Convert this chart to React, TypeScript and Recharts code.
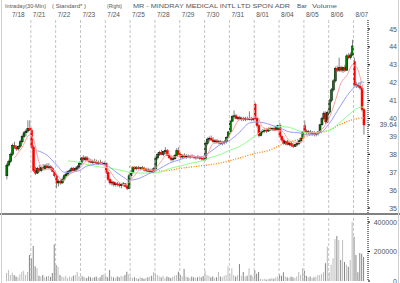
import React from 'react';
import { ComposedChart, Bar, Line, XAxis, YAxis, ReferenceLine, Cell } from 'recharts';

const dayLabels = ['7/18', '7/21', '7/22', '7/23', '7/24', '7/25', '7/28', '7/29', '7/30', '7/31', '8/01', '8/04', '8/05', '8/06', '8/07'];
const barsPerDay = 13;
const priceTicks = [35, 36, 37, 38, 39, 40, 41, 42, 43, 44, 45];
const lastPrice = 39.64;
const volumeTicks = [0, 200000, 400000];

// [open, high, low, close] per 30-minute bar
const candles: number[][] = [
  // 7/18
  [36.8, 37.5, 36.6, 37.4], [37.4, 37.7, 37.3, 37.6], [37.6, 38.1, 37.5, 38.0], [38.0, 38.6, 37.9, 38.5], [38.5, 38.7, 38.3, 38.4],
  [38.4, 38.5, 38.2, 38.3], [38.3, 38.5, 38.2, 38.45], [38.45, 38.8, 38.35, 38.7], [38.7, 39.1, 38.6, 39.0], [39.0, 39.3, 38.9, 39.2],
  [39.2, 39.4, 39.0, 39.3], [39.3, 39.9, 39.2, 39.45], [39.45, 39.9, 39.3, 39.35],
  // 7/21
  [39.35, 39.5, 38.3, 38.4], [38.4, 38.5, 37.0, 37.1], [37.1, 37.3, 36.85, 36.95], [36.95, 37.3, 36.9, 37.2], [37.2, 37.4, 37.0, 37.1],
  [37.1, 37.35, 37.0, 37.25], [37.25, 37.45, 37.1, 37.2], [37.2, 37.45, 37.1, 37.35], [37.35, 37.5, 37.2, 37.25], [37.25, 37.5, 37.15, 37.3],
  [37.3, 37.4, 37.1, 37.2], [37.2, 37.3, 37.0, 37.05], [37.05, 37.1, 36.7, 36.8],
  // 7/22
  [36.8, 36.9, 36.1, 36.4], [36.4, 36.6, 36.2, 36.5], [36.5, 36.6, 36.3, 36.4], [36.4, 36.7, 36.35, 36.6], [36.6, 36.9, 36.5, 36.8],
  [36.8, 37.0, 36.7, 36.9], [36.9, 37.1, 36.8, 37.05], [37.05, 37.2, 36.95, 37.1], [37.1, 37.3, 37.0, 37.2], [37.2, 37.3, 37.05, 37.1],
  [37.1, 37.3, 37.05, 37.2], [37.2, 37.4, 37.1, 37.3], [37.3, 37.6, 37.2, 37.5],
  // 7/23
  [37.5, 37.85, 37.4, 37.8], [37.8, 37.95, 37.6, 37.7], [37.7, 37.9, 37.6, 37.8], [37.8, 37.9, 37.6, 37.65], [37.65, 37.8, 37.5, 37.6],
  [37.6, 37.75, 37.5, 37.55], [37.55, 37.7, 37.45, 37.6], [37.6, 37.75, 37.5, 37.55], [37.55, 37.7, 37.45, 37.5], [37.5, 37.65, 37.4, 37.55],
  [37.55, 37.7, 37.45, 37.5], [37.5, 37.6, 37.4, 37.45], [37.45, 37.6, 37.35, 37.5],
  // 7/24
  [37.5, 37.55, 36.9, 37.0], [37.0, 37.1, 36.5, 36.6], [36.6, 36.7, 36.3, 36.4], [36.4, 36.55, 36.25, 36.45], [36.45, 36.5, 36.2, 36.3],
  [36.3, 36.45, 36.2, 36.35], [36.35, 36.45, 36.2, 36.3], [36.3, 36.4, 36.15, 36.25], [36.25, 36.4, 36.1, 36.3], [36.3, 36.45, 36.2, 36.35],
  [36.35, 36.4, 36.15, 36.2], [36.2, 36.3, 36.0, 36.1], [36.1, 36.9, 36.05, 36.8],
  // 7/25
  [36.8, 37.1, 36.6, 37.0], [37.0, 37.35, 36.9, 37.25], [37.25, 37.35, 37.1, 37.2], [37.2, 37.35, 37.1, 37.25], [37.25, 37.35, 37.15, 37.2],
  [37.2, 37.3, 37.1, 37.25], [37.25, 37.35, 37.15, 37.2], [37.2, 37.3, 37.05, 37.1], [37.1, 37.25, 37.0, 37.15], [37.15, 37.25, 37.0, 37.05],
  [37.05, 37.2, 36.95, 37.1], [37.1, 37.2, 36.95, 37.0], [37.0, 37.3, 36.95, 37.2],
  // 7/28
  [37.2, 37.9, 37.1, 37.8], [37.8, 38.1, 37.7, 38.0], [38.0, 38.2, 37.9, 38.1], [38.1, 38.25, 37.95, 38.0], [38.0, 38.2, 37.9, 38.15],
  [38.15, 38.4, 38.0, 38.2], [38.2, 38.3, 37.9, 37.95], [37.95, 38.05, 37.75, 37.8], [37.8, 37.9, 37.6, 37.7], [37.7, 37.85, 37.6, 37.75],
  [37.75, 38.0, 37.7, 37.95], [37.95, 38.35, 37.9, 38.2], [38.2, 38.4, 37.95, 38.0],
  // 7/29
  [38.0, 38.1, 37.75, 37.85], [37.85, 38.0, 37.75, 37.95], [37.95, 38.05, 37.8, 37.85], [37.85, 38.0, 37.75, 37.9], [37.9, 38.0, 37.8, 37.85],
  [37.85, 37.95, 37.75, 37.9], [37.9, 38.0, 37.8, 37.85], [37.85, 37.95, 37.75, 37.8], [37.8, 37.9, 37.7, 37.85], [37.85, 37.95, 37.75, 37.8],
  [37.8, 37.9, 37.7, 37.8], [37.8, 37.9, 37.65, 37.75], [37.75, 37.85, 37.65, 37.7],
  // 7/30
  [37.7, 38.7, 37.65, 38.6], [38.6, 38.95, 38.5, 38.85], [38.85, 39.0, 38.7, 38.9], [38.9, 39.05, 38.75, 38.8], [38.8, 38.95, 38.65, 38.7],
  [38.7, 38.85, 38.6, 38.75], [38.75, 38.85, 38.6, 38.65], [38.65, 38.8, 38.55, 38.7], [38.7, 38.8, 38.55, 38.6], [38.6, 38.75, 38.5, 38.65],
  [38.65, 38.8, 38.55, 38.7], [38.7, 39.0, 38.6, 38.95], [38.95, 39.3, 38.9, 39.25],
  // 7/31
  [39.25, 39.9, 39.2, 39.85], [39.85, 40.2, 39.8, 40.1], [40.1, 40.45, 40.0, 40.15], [40.15, 40.25, 39.95, 40.0], [40.0, 40.15, 39.9, 40.05],
  [40.05, 40.15, 39.9, 39.95], [39.95, 40.1, 39.85, 40.0], [40.0, 40.1, 39.85, 39.95], [39.95, 40.1, 39.85, 40.0], [40.0, 40.1, 39.9, 39.95],
  [39.95, 40.4, 39.9, 40.0], [40.0, 40.1, 39.85, 39.95], [39.95, 40.05, 39.85, 40.0],
  // 8/01
  [40.8, 40.9, 39.9, 40.0], [40.0, 40.1, 39.5, 39.6], [39.6, 39.7, 38.95, 39.05], [39.05, 39.3, 39.0, 39.25], [39.25, 39.4, 39.15, 39.3],
  [39.3, 39.45, 39.2, 39.35], [39.35, 39.45, 39.2, 39.3], [39.3, 39.5, 39.25, 39.45], [39.45, 39.55, 39.3, 39.4], [39.4, 39.5, 39.3, 39.45],
  [39.45, 39.55, 39.3, 39.35], [39.35, 39.6, 39.3, 39.5], [39.4, 39.65, 39.3, 39.6],
  // 8/04
  [39.6, 39.75, 38.9, 39.0], [39.0, 39.1, 38.7, 38.8], [38.8, 38.9, 38.55, 38.6], [38.6, 38.75, 38.5, 38.7], [38.7, 38.8, 38.5, 38.55],
  [38.55, 38.7, 38.45, 38.6], [38.6, 38.7, 38.4, 38.5], [38.5, 38.6, 38.35, 38.45], [38.45, 38.6, 38.4, 38.55], [38.55, 38.7, 38.45, 38.6],
  [38.6, 38.8, 38.5, 38.75], [38.75, 38.95, 38.65, 38.9], [38.9, 39.3, 38.85, 39.25],
  // 8/05
  [39.6, 39.9, 39.2, 39.3], [39.3, 39.4, 39.1, 39.2], [39.2, 39.35, 39.1, 39.25], [39.25, 39.35, 39.1, 39.15], [39.15, 39.3, 39.05, 39.2],
  [39.2, 39.3, 39.0, 39.1], [39.1, 39.25, 39.0, 39.15], [39.15, 39.3, 39.05, 39.25], [39.25, 39.7, 39.2, 39.65], [39.65, 40.1, 39.6, 40.0],
  [40.0, 40.4, 39.9, 40.3], [40.3, 40.4, 39.7, 39.8], [39.8, 40.45, 39.75, 40.35],
  // 8/06
  [40.35, 41.1, 40.25, 41.0], [41.0, 41.7, 40.9, 41.6], [41.6, 42.2, 41.5, 42.1], [42.1, 42.9, 42.0, 42.8], [42.8, 42.95, 42.6, 42.7],
  [42.7, 43.4, 42.6, 42.85], [42.85, 42.95, 42.6, 42.7], [42.7, 42.9, 42.55, 42.85], [42.85, 43.0, 42.6, 42.7], [42.7, 43.6, 42.65, 43.5],
  [43.5, 43.65, 43.3, 43.4], [43.4, 43.7, 43.3, 43.55], [43.55, 44.4, 43.5, 44.05],
  // 8/07
  [43.2, 43.4, 41.8, 41.9], [41.9, 42.05, 41.7, 41.85], [41.85, 42.0, 41.7, 41.8], [41.8, 42.05, 41.6, 41.7], [41.7, 41.75, 40.4, 40.5],
  [40.5, 40.6, 39.1, 39.64],
];

const volumes: number[] = [
  54000, 75000, 40000, 56000, 40000, 30000, 25000, 45000, 63000, 70000, 40000, 61000, 176000,
  155000, 237000, 100000, 86000, 35000, 30000, 40000, 25000, 30000, 35000, 28000, 54000, 250000,
  108000, 97000, 40000, 30000, 25000, 35000, 20000, 30000, 25000, 35000, 40000, 61000, 30000,
  40000, 30000, 25000, 20000, 30000, 25000, 20000, 25000, 30000, 20000, 25000, 40000, 45000,
  30000, 25000, 74000, 30000, 25000, 20000, 30000, 25000, 35000, 30000, 40000, 63000, 45000,
  30000, 20000, 25000, 20000, 15000, 25000, 20000, 15000, 20000, 25000, 30000, 35000, 61000,
  55000, 40000, 30000, 25000, 35000, 20000, 30000, 25000, 20000, 30000, 35000, 40000, 63000,
  40000, 30000, 81000, 30000, 25000, 20000, 30000, 25000, 20000, 25000, 30000, 25000, 34000,
  70000, 40000, 35000, 25000, 30000, 20000, 25000, 61000, 30000, 25000, 35000, 40000, 100000,
  45000, 86000, 40000, 30000, 40000, 115000, 35000, 61000, 30000, 35000, 86000, 40000, 30000,
  75000, 50000, 61000, 15000, 12000, 15000, 10000, 12000, 15000, 20000, 15000, 25000, 30000,
  45000, 35000, 60000, 30000, 25000, 20000, 30000, 25000, 20000, 30000, 61000, 40000, 86000,
  70000, 35000, 25000, 30000, 20000, 25000, 30000, 40000, 40000, 50000, 60000, 120000, 232000,
  60000, 110000, 155000, 284000, 305000, 278000, 142000, 278000, 129000, 110000, 97000, 142000, 402000,
  300000, 176000, 60000, 190000, 185000, 162000,
];

// moving averages: [bar index, value]
const maFast: number[][] = [
  [4, 37.8], [8, 38.4], [12, 39.1], [14, 38.8], [17, 37.5], [20, 37.15], [23, 37.2], [26, 36.9], [29, 36.55], [33, 36.9],
  [38, 37.2], [42, 37.65], [48, 37.55], [53, 37.2], [57, 36.6], [62, 36.3], [66, 36.7], [70, 37.15], [76, 37.1], [80, 37.5],
  [84, 38.0], [88, 37.85], [92, 37.95], [100, 37.85], [104, 37.85], [108, 38.6], [114, 38.7], [118, 39.3], [122, 39.95],
  [128, 40.0], [131, 40.1], [134, 39.5], [140, 39.35], [144, 39.3], [148, 38.75], [154, 38.65], [157, 39.2], [162, 39.2],
  [165, 39.4], [169, 40.1], [172, 41.0], [175, 42.0], [178, 42.4], [181, 43.0], [183, 42.9], [185, 42.3], [187, 41.4],
];
const maMid: number[][] = [
  [16, 38.2], [21, 37.95], [26, 37.4], [30, 37.0], [33, 37.0], [38, 37.1], [42, 37.35], [48, 37.45], [52, 37.4], [56, 37.1],
  [60, 36.8], [64, 36.55], [69, 36.65], [75, 36.95], [80, 37.2], [85, 37.5], [90, 37.68], [96, 37.85], [101, 37.85],
  [106, 38.1], [111, 38.5], [117, 38.8], [122, 39.25], [127, 39.75], [131, 39.8], [135, 39.75], [138, 39.65], [143, 39.47],
  [148, 39.25], [153, 39.2], [158, 39.08], [164, 39.2], [169, 39.75], [174, 40.6], [179, 41.4], [183, 41.85], [186, 42.05], [187, 42.0],
];
const maSlow: number[][] = [
  [32, 37.63], [38, 37.55], [43, 37.4], [49, 37.29], [54, 37.23], [59, 37.12], [64, 37.0], [70, 36.95], [75, 36.95], [80, 37.0],
  [85, 37.2], [91, 37.35], [96, 37.5], [101, 37.6], [106, 37.8], [111, 37.96], [117, 38.24], [122, 38.45], [127, 38.8],
  [131, 39.1], [135, 39.4], [143, 39.55], [148, 39.5], [153, 39.3], [158, 39.2], [164, 39.25], [169, 39.35], [174, 39.75],
  [179, 40.2], [184, 40.6], [187, 40.65],
];
const maLong: number[][] = [
  [64, 37.3], [70, 37.23], [75, 37.12], [80, 37.07], [85, 37.1], [90, 37.2], [101, 37.35], [111, 37.5], [122, 37.8],
  [130, 38.05], [138, 38.25], [143, 38.5], [153, 38.85], [158, 39.05], [164, 39.2], [169, 39.36], [174, 39.64], [179, 39.86],
  [185, 40.03], [187, 40.05],
];

const N = candles.length;
const dayStarts = dayLabels.map((_, k) => k * barsPerDay);
const gridStarts = dayStarts.slice(1);

const rows: any[] = candles.map(([o, h, l, c], i) => ({
  i, o, h, l, c, range: [l, h], vol: volumes[i], up: c >= o,
  fast: null, mid: null, slow: null, long: null,
}));
maFast.forEach(([i, v]) => { rows[i].fast = v; });
maMid.forEach(([i, v]) => { rows[i].mid = v; });
maSlow.forEach(([i, v]) => { rows[i].slow = v; });
maLong.forEach(([i, v]) => { rows[i].long = v; });

const FONT = 'Liberation Sans, Arial, Helvetica, sans-serif';
const TXT = '#555';

const Candle = (props: any) => {
  const { x, y, width, height, payload } = props;
  if (x == null || y == null || !payload) return null;
  const top = Math.min(y, y + height);
  const bot = Math.max(y, y + height);
  const { o, h, l, c } = payload;
  const k = (bot - top) / (h - l || 1);
  const cx = x + width / 2;
  const yO = top + (h - o) * k;
  const yC = top + (h - c) * k;
  const bTop = Math.min(yO, yC);
  const bH = Math.abs(yC - yO);
  const up = c > o;
  const flat = bH < 0.8;
  return (
    <g>
      <line x1={cx} x2={cx} y1={top} y2={bot} stroke="#808080" strokeWidth={1} />
      {flat ? (
        <line x1={cx - 1.2} x2={cx + 1.2} y1={yC} y2={yC} stroke="#000" strokeWidth={1} />
      ) : (
        <rect x={cx - 1} y={bTop} width={2} height={bH}
          fill={up ? '#008000' : '#ff0000'} stroke={up ? '#000' : '#ff0000'} strokeWidth={0.5} />
      )}
    </g>
  );
};

const DayTick = (p: any) => {
  const v = p.payload.value;
  const idx = dayStarts.indexOf(v);
  if (idx < 0) return null;
  return (
    <text x={p.x + (idx === 0 ? 6 : 2)} y={16.5} textAnchor="start" fontSize={6.5} fill={TXT} fontFamily={FONT}>
      {dayLabels[idx]}
    </text>
  );
};

const PriceTick = (p: any) => (
  <text x={397} y={p.y + 2.5} textAnchor="end" fontSize={7} fill={TXT} fontFamily={FONT}>
    {p.payload.value}
  </text>
);

const VolTick = (p: any) => (
  <text x={397} y={p.y + 2.5} textAnchor="end" fontSize={7} fill={TXT} fontFamily={FONT}>
    {p.payload.value}
  </text>
);

const titleParts = [
  { t: 'Intraday(30-Min)', x: 5, w: 41 },
  { t: '( Standard* )', x: 52, w: 34 },
  { t: '(Right)', x: 107, w: 15 },
  { t: 'MR - MINDRAY MEDICAL INTL LTD SPON ADR', x: 133, w: 157 },
  { t: 'Bar', x: 297, w: 10 },
  { t: 'Volume', x: 312, w: 25 },
];

export default function App() {
  return (
    <div style={{ position: 'absolute', left: 0, top: 0, width: 400, height: 283, background: '#fff', overflow: 'hidden', fontFamily: FONT }}>
      <div style={{ position: 'absolute', left: 0, top: 0 }}>
        <ComposedChart width={400} height={215} data={rows} margin={{ top: 0, right: 0, left: 6, bottom: 1 }}>
          <XAxis xAxisId="c" dataKey="i" type="category" hide padding={{ left: 0, right: 3 }} />
          <XAxis xAxisId="n" dataKey="i" type="number" domain={[0, N]} allowDataOverflow orientation="top" height={20}
            ticks={dayStarts} interval={0} tick={DayTick} axisLine={false} tickLine={false} padding={{ left: 0, right: 3 }} />
          <YAxis yAxisId="p" orientation="right" domain={[34.665, 45.503]} allowDataOverflow width={32}
            ticks={[...priceTicks, lastPrice]} interval={0} tick={PriceTick}
            axisLine={{ stroke: '#000', strokeDasharray: '1 1' }} tickLine={{ stroke: '#000' }} tickSize={2} />
          {gridStarts.map((s) => (
            <ReferenceLine key={s} xAxisId="n" yAxisId="p" x={s} stroke="#c4c4c4" strokeDasharray="3 2" />
          ))}
          <Line xAxisId="c" yAxisId="p" dataKey="long" stroke="#ff8000" strokeWidth={1.3} strokeDasharray="1 1.5" dot={false} connectNulls type="monotone" isAnimationActive={false} />
          <Line xAxisId="c" yAxisId="p" dataKey="slow" stroke="#90ff90" strokeWidth={1} dot={false} connectNulls type="monotone" isAnimationActive={false} />
          <Line xAxisId="c" yAxisId="p" dataKey="mid" stroke="#9999ff" strokeWidth={1} dot={false} connectNulls type="monotone" isAnimationActive={false} />
          <Line xAxisId="c" yAxisId="p" dataKey="fast" stroke="#ffa0a0" strokeWidth={1} dot={false} connectNulls type="monotone" isAnimationActive={false} />
          <Bar xAxisId="c" yAxisId="p" dataKey="range" barSize={2} shape={Candle} isAnimationActive={false} />
        </ComposedChart>
      </div>
      <div style={{ position: 'absolute', left: 0, top: 213, width: 400, height: 2, background: '#808080' }} />
      <div style={{ position: 'absolute', left: 0, top: 215 }}>
        <ComposedChart width={400} height={68} data={rows} margin={{ top: 2, right: 0, left: 6, bottom: 2 }}>
          <XAxis xAxisId="c" dataKey="i" type="category" hide padding={{ left: 0, right: 3 }} />
          <XAxis xAxisId="n" dataKey="i" type="number" domain={[0, N]} allowDataOverflow hide padding={{ left: 0, right: 3 }} />
          <YAxis yAxisId="v" orientation="right" domain={[0, 433900]} allowDataOverflow width={32}
            ticks={volumeTicks} interval={0} tick={VolTick}
            axisLine={{ stroke: '#000', strokeDasharray: '1 1' }} tickLine={{ stroke: '#000' }} tickSize={2} />
          {gridStarts.map((s) => (
            <ReferenceLine key={s} xAxisId="n" yAxisId="v" x={s} stroke="#c4c4c4" strokeDasharray="3 2" />
          ))}
          <Bar xAxisId="c" yAxisId="v" dataKey="vol" barSize={1} isAnimationActive={false}>
            {rows.map((r, i) => (
              <Cell key={i} fill={r.up ? '#bcbcbc' : '#858585'} />
            ))}
          </Bar>
        </ComposedChart>
      </div>
      <svg width={400} height={283} style={{ position: 'absolute', left: 0, top: 0, pointerEvents: 'none' }}>
        {titleParts.map((p) => (
          <text key={p.t} x={p.x} y={8} fontSize={6.2} fill={TXT} fontFamily={FONT} textLength={p.w} lengthAdjust="spacingAndGlyphs">
            {p.t}
          </text>
        ))}
        <line x1={1.5} x2={1.5} y1={0} y2={283} stroke="#d0d0d0" />
        <line x1={398.5} x2={398.5} y1={0} y2={283} stroke="#d0d0d0" />
      </svg>
    </div>
  );
}
